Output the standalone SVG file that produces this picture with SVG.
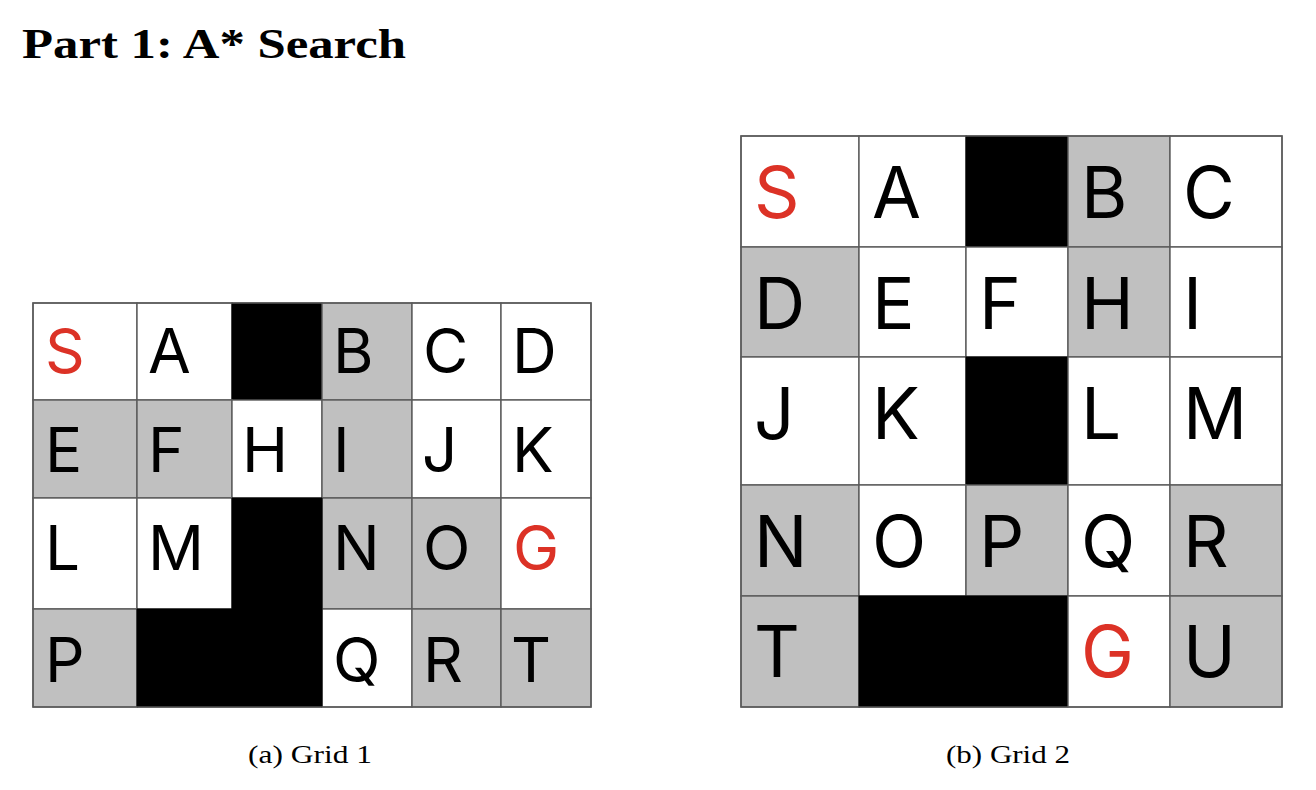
<svg xmlns="http://www.w3.org/2000/svg" width="1316" height="790" viewBox="0 0 1316 790">
<style>
.w{fill:#ffffff;stroke:#5a5a5a;stroke-width:1.4}
.g{fill:#c0c0c0;stroke:#5a5a5a;stroke-width:1.4}
.b{fill:#000000;stroke:#000000;stroke-width:1}
.t1{font-family:Inter,"Liberation Sans",sans-serif;font-size:62px;fill:#000}
.t2{font-family:Inter,"Liberation Sans",sans-serif;font-size:71px;fill:#000}
.red{fill:#dc3226}
.title{font-family:"Liberation Serif","DejaVu Serif",serif;font-weight:bold;font-size:42px;fill:#000}
.cap{font-family:"Liberation Serif","DejaVu Serif",serif;font-size:25px;fill:#000}
</style>
<rect x="0" y="0" width="1316" height="790" fill="#ffffff"/>
<text class="title" x="22" y="58" textLength="384" lengthAdjust="spacingAndGlyphs">Part 1:  A* Search</text>

<g id="grid1">
  <g id="g1-S"><rect class="w" x="33" y="303" width="104" height="97"/><text class="t1 red" x="45" y="373">S</text></g>
  <g id="g1-A"><rect class="w" x="137" y="303" width="95" height="97"/><text class="t1" x="148" y="373">A</text></g>
  <g id="g1-X1"><rect class="b" x="232" y="303" width="90" height="97"/></g>
  <g id="g1-B"><rect class="g" x="322" y="303" width="90" height="97"/><text class="t1" x="333" y="373">B</text></g>
  <g id="g1-C"><rect class="w" x="412" y="303" width="89" height="97"/><text class="t1" x="423" y="373">C</text></g>
  <g id="g1-D"><rect class="w" x="501" y="303" width="90" height="97"/><text class="t1" x="512" y="373">D</text></g>

  <g id="g1-E"><rect class="g" x="33" y="400" width="104" height="98"/><text class="t1" x="45" y="472">E</text></g>
  <g id="g1-F"><rect class="g" x="137" y="400" width="95" height="98"/><text class="t1" x="148" y="472">F</text></g>
  <g id="g1-H"><rect class="w" x="232" y="400" width="90" height="98"/><text class="t1" x="242" y="472">H</text></g>
  <g id="g1-I"><rect class="g" x="322" y="400" width="90" height="98"/><text class="t1" x="333" y="472">I</text></g>
  <g id="g1-J"><rect class="w" x="412" y="400" width="89" height="98"/><text class="t1" x="422" y="472">J</text></g>
  <g id="g1-K"><rect class="w" x="501" y="400" width="90" height="98"/><text class="t1" x="512" y="472">K</text></g>

  <g id="g1-L"><rect class="w" x="33" y="498" width="104" height="111"/><text class="t1" x="45" y="570">L</text></g>
  <g id="g1-M"><rect class="w" x="137" y="498" width="95" height="111"/><text class="t1" x="148" y="570">M</text></g>
  <g id="g1-N"><rect class="g" x="322" y="498" width="90" height="111"/><text class="t1" x="333" y="570">N</text></g>
  <g id="g1-O"><rect class="g" x="412" y="498" width="89" height="111"/><text class="t1" x="423" y="570">O</text></g>
  <g id="g1-G"><rect class="w" x="501" y="498" width="90" height="111"/><text class="t1 red" x="513" y="570">G</text></g>

  <g id="g1-P"><rect class="g" x="33" y="609" width="104" height="98"/><text class="t1" x="45" y="682">P</text></g>
  <g id="g1-Q"><rect class="w" x="322" y="609" width="90" height="98"/><text class="t1" x="333" y="682">Q</text></g>
  <g id="g1-R"><rect class="g" x="412" y="609" width="89" height="98"/><text class="t1" x="423" y="682">R</text></g>
  <g id="g1-T"><rect class="g" x="501" y="609" width="90" height="98"/><text class="t1" x="511" y="682">T</text></g>

  <g id="g1-X2"><path class="b" d="M232,498 H322 V707 H137 V609 H232 Z"/></g>
  <rect x="33" y="303" width="558" height="404" fill="none" stroke="#5a5a5a" stroke-width="1.4"/>
</g>

<g id="grid2">
  <g id="g2-S"><rect class="w" x="741" y="136" width="118" height="111"/><text class="t2 red" x="754" y="218">S</text></g>
  <g id="g2-A"><rect class="w" x="859" y="136" width="107" height="111"/><text class="t2" x="872" y="218">A</text></g>
  <g id="g2-X1"><rect class="b" x="966" y="136" width="102" height="111"/></g>
  <g id="g2-B"><rect class="g" x="1068" y="136" width="102" height="111"/><text class="t2" x="1081" y="218">B</text></g>
  <g id="g2-C"><rect class="w" x="1170" y="136" width="112" height="111"/><text class="t2" x="1183" y="218">C</text></g>

  <g id="g2-D"><rect class="g" x="741" y="247" width="118" height="110"/><text class="t2" x="754" y="329">D</text></g>
  <g id="g2-E"><rect class="w" x="859" y="247" width="107" height="110"/><text class="t2" x="872" y="329">E</text></g>
  <g id="g2-F"><rect class="w" x="966" y="247" width="102" height="110"/><text class="t2" x="979" y="329">F</text></g>
  <g id="g2-H"><rect class="g" x="1068" y="247" width="102" height="110"/><text class="t2" x="1081" y="329">H</text></g>
  <g id="g2-I"><rect class="w" x="1170" y="247" width="112" height="110"/><text class="t2" x="1183" y="329">I</text></g>

  <g id="g2-J"><rect class="w" x="741" y="357" width="118" height="128"/><text class="t2" x="754" y="439">J</text></g>
  <g id="g2-K"><rect class="w" x="859" y="357" width="107" height="128"/><text class="t2" x="872" y="439">K</text></g>
  <g id="g2-X2"><rect class="b" x="966" y="357" width="102" height="128"/></g>
  <g id="g2-L"><rect class="w" x="1068" y="357" width="102" height="128"/><text class="t2" x="1081" y="439">L</text></g>
  <g id="g2-M"><rect class="w" x="1170" y="357" width="112" height="128"/><text class="t2" x="1183" y="439">M</text></g>

  <g id="g2-N"><rect class="g" x="741" y="485" width="118" height="111"/><text class="t2" x="754" y="567">N</text></g>
  <g id="g2-O"><rect class="w" x="859" y="485" width="107" height="111"/><text class="t2" x="872" y="567">O</text></g>
  <g id="g2-P"><rect class="g" x="966" y="485" width="102" height="111"/><text class="t2" x="979" y="567">P</text></g>
  <g id="g2-Q"><rect class="w" x="1068" y="485" width="102" height="111"/><text class="t2" x="1081" y="567">Q</text></g>
  <g id="g2-R"><rect class="g" x="1170" y="485" width="112" height="111"/><text class="t2" x="1183" y="567">R</text></g>

  <g id="g2-T"><rect class="g" x="741" y="596" width="118" height="111"/><text class="t2" x="754" y="677">T</text></g>
  <g id="g2-X3"><rect class="b" x="859" y="596" width="209" height="111"/></g>
  <g id="g2-G"><rect class="w" x="1068" y="596" width="102" height="111"/><text class="t2 red" x="1081" y="677">G</text></g>
  <g id="g2-U"><rect class="g" x="1170" y="596" width="112" height="111"/><text class="t2" x="1183" y="677">U</text></g>
  <rect x="741" y="136" width="541" height="571" fill="none" stroke="#5a5a5a" stroke-width="1.4"/>
</g>

<g id="captions">
  <text class="cap" x="248" y="763" textLength="124" lengthAdjust="spacingAndGlyphs">(a) Grid 1</text>
  <text class="cap" x="946" y="763" textLength="124" lengthAdjust="spacingAndGlyphs">(b) Grid 2</text>
</g>
</svg>
